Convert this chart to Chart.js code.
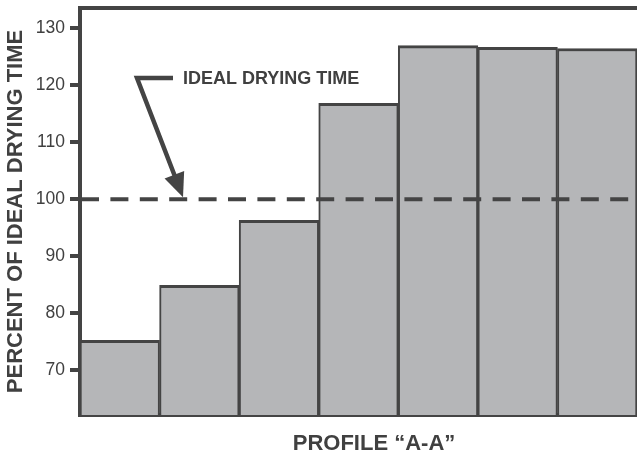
<!DOCTYPE html>
<html><head><meta charset="utf-8">
<script src="https://cdn.jsdelivr.net/npm/chart.js@4/dist/chart.umd.min.js"></script>
<style>html,body{margin:0;padding:0;background:#fff;overflow:hidden}</style>
</head><body>
<canvas id="c" width="637" height="456"></canvas>
<script>
const categories = ['1', '2', '3', '4', '5', '6', '7'];
const percentOfIdeal = [75.3, 84.9, 96.3, 116.8, 126.9, 126.6, 126.4];
const yTicks = [70, 80, 90, 100, 110, 120, 130];
const idealValue = 100;
const yTitle = 'PERCENT OF IDEAL DRYING TIME';
const xTitle = 'PROFILE “A-A”';
const idealLabel = 'IDEAL DRYING TIME';

const INK = '#444444';
const TEXT = '#404040';
const FONT = 'Liberation Sans, Arial, sans-serif';

const annot = {
  id: 'annot',
  afterDatasetsDraw(chart) {
    const {ctx, chartArea: a, scales: {y}} = chart;
    const yv = y.getPixelForValue(idealValue);
    ctx.save();
    ctx.strokeStyle = INK;
    ctx.fillStyle = INK;
    ctx.lineWidth = 4;
    // dashed ideal line
    ctx.setLineDash([18, 11.4]);
    ctx.beginPath(); ctx.moveTo(a.left + 1, yv); ctx.lineTo(a.right, yv); ctx.stroke();
    ctx.setLineDash([]);
    // top frame
    ctx.beginPath(); ctx.moveTo(a.left - 2, a.top); ctx.lineTo(a.right, a.top); ctx.stroke();
    // bracket + arrow
    const tipX = a.left + 103, tipY = yv - 2;
    const sx = a.left + 57, sy = 78;
    const dx = tipX - sx, dy = tipY - sy, L = Math.hypot(dx, dy);
    const ux = dx / L, uy = dy / L;
    const head = 24, hw = 10.5;
    const bx = tipX - ux * head, by = tipY - uy * head;
    ctx.lineWidth = 4.5;
    ctx.lineJoin = 'miter';
    ctx.beginPath();
    ctx.moveTo(a.left + 93, sy);
    ctx.lineTo(sx, sy);
    ctx.lineTo(bx + ux * 2, by + uy * 2);
    ctx.stroke();
    ctx.beginPath();
    ctx.moveTo(tipX, tipY);
    ctx.lineTo(bx - uy * hw, by + ux * hw);
    ctx.lineTo(bx + uy * hw, by - ux * hw);
    ctx.closePath(); ctx.fill();
    // label
    ctx.fillStyle = TEXT;
    ctx.font = 'bold 18px ' + FONT;
    ctx.textAlign = 'left';
    ctx.textBaseline = 'alphabetic';
    ctx.fillText(idealLabel, a.left + 103, 83.5);
    // x title
    ctx.font = 'bold 22px ' + FONT;
    ctx.textAlign = 'center';
    ctx.fillText(xTitle, 374, 449.5);
    ctx.restore();
  }
};

new Chart(document.getElementById('c'), {
  type: 'bar',
  data: {
    labels: categories,
    datasets: [{
      data: percentOfIdeal,
      backgroundColor: '#b5b6b8',
      borderColor: INK,
      borderWidth: {top: 3, left: 2, right: 2, bottom: 0},
      borderSkipped: 'bottom',
      categoryPercentage: 1,
      barPercentage: 1
    }]
  },
  options: {
    responsive: false,
    animation: false,
    devicePixelRatio: 1,
    layout: {padding: {top: 8, left: 0, right: 0, bottom: 0}},
    plugins: {legend: {display: false}, tooltip: {enabled: false}},
    scales: {
      x: {
        ticks: {display: false},
        grid: {display: true, drawOnChartArea: false, drawTicks: false},
        border: {display: true, width: 4, color: INK},
        afterFit: s => { s.height = 41; s.paddingLeft = 0; s.paddingRight = 0; }
      },
      y: {
        min: 62.2,
        max: 133.5,
        afterBuildTicks: s => { s.ticks = yTicks.map(v => ({value: v})); },
        afterFit: s => { s.width = 80; s.paddingTop = 0; s.paddingBottom = 0; },
        ticks: {color: TEXT, font: {family: FONT, size: 17.5}, padding: 5},
        grid: {drawOnChartArea: false, tickLength: 10, tickWidth: 4, tickColor: INK, lineWidth: 4, color: INK},
        border: {display: true, width: 4, color: INK},
        title: {display: true, text: yTitle, color: TEXT,
                font: {family: FONT, size: 22, weight: 'bold'}, padding: {top: 3, bottom: 0}}
      }
    }
  },
  plugins: [annot]
});
</script>
</body></html>
